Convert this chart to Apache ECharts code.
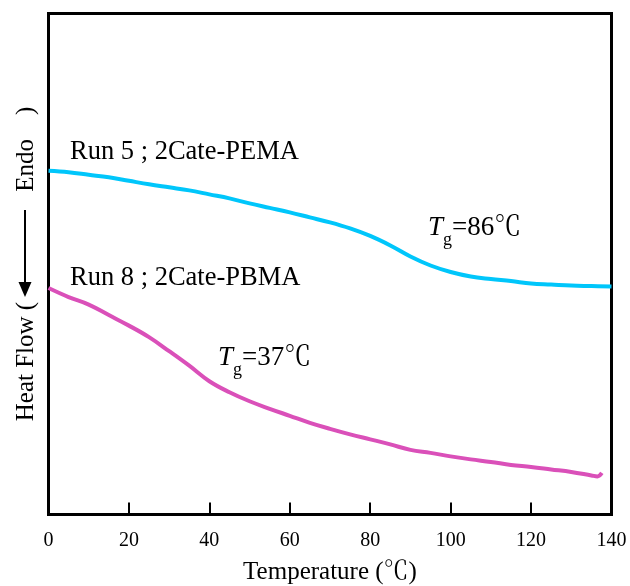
<!DOCTYPE html>
<html>
<head>
<meta charset="utf-8">
<script src="https://cdn.jsdelivr.net/npm/echarts@6/dist/echarts.min.js"></script>
<style>
  html, body { margin: 0; padding: 0; background: #fff; }
  #chart { width: 630px; height: 586px; }
</style>
</head>
<body>
<div id="chart"></div>
<script>
// temperature (°C) and heat flow (arbitrary units)
var tempPEMA = [0, 5, 10, 15, 20, 25, 30, 35, 40, 45, 50, 55, 60, 65, 70, 75, 80, 85, 90, 95, 100, 105, 110, 115, 120, 125, 130, 135, 140]
var flowPEMA = [68.6, 68.3, 67.8, 67.3, 66.6, 65.9, 65.3, 64.7, 63.9, 63.1, 62.1, 61.2, 60.3, 59.3, 58.3, 57.1, 55.6, 53.7, 51.5, 49.7, 48.4, 47.5, 47.0, 46.6, 46.1, 45.9, 45.7, 45.6, 45.5]

var tempPBMA = [0, 5, 10, 15, 20, 25, 30, 35, 40, 45, 50, 55, 60, 65, 70, 75, 80, 85, 90, 95, 100, 105, 110, 115, 120, 125, 130, 135, 136.5, 137.6]
var flowPBMA = [45.2, 43.4, 41.9, 39.8, 37.7, 35.4, 32.6, 29.7, 26.6, 24.4, 22.6, 21.1, 19.7, 18.3, 17.1, 16.0, 15.0, 14.0, 12.9, 12.3, 11.6, 11.0, 10.5, 9.9, 9.5, 9.0, 8.5, 7.8, 7.6, 8.3]

var xTicks = [0, 20, 40, 60, 80, 100, 120, 140]

var serif = '"Liberation Serif", "Times New Roman", "Noto Serif CJK JP", "Noto Sans CJK JP", serif'

function pairs(xs, ys){
    var out = []
    for(let i=0;i<xs.length;i++){
        out.push([xs[i], ys[i]])
    }
    return out
}

function txt(x, y, s, size, italic){
    return {
        type: 'text', x: x, y: y, silent: true,
        style: {
            text: s, fill: '#000', font: (italic ? 'italic ' : '') + size + 'px ' + serif,
            align: 'left', verticalAlign: 'middle'
        }
    }
}

var option = {
    animation: false,
    backgroundColor: '#fff',
    grid: {
        left: 48.5, right: 18.5, top: 13.5, bottom: 71.5,
        containLabel: false, outerBoundsMode: 'none',
        show: true, borderColor: '#000', borderWidth: 3, backgroundColor: 'transparent'
    },
    xAxis: {
        type: 'value', min: 0, max: 140, interval: 20,
        name: 'Temperature (℃)', nameLocation: 'middle', nameGap: 45,
        nameTextStyle: { fontFamily: serif, fontSize: 25, color: '#000' },
        axisLine: { show: false },
        axisTick: { show: true, inside: true, length: 12, lineStyle: { color: '#000', width: 2 } },
        axisLabel: {
            margin: 16, fontFamily: serif, fontSize: 20, color: '#000',
            showMinLabel: true, showMaxLabel: true,
            formatter: function(v){ return xTicks.indexOf(v) >= 0 ? String(v) : '' }
        },
        splitLine: { show: false }
    },
    yAxis: {
        type: 'value', min: 0, max: 100,
        name: '{t|Heat Flow (}{g|}{t|Endo}{h|}{t|)}',
        nameLocation: 'middle', nameRotate: 90, nameGap: 10,
        nameTextStyle: {
            rich: {
                t: { fontFamily: serif, fontSize: 25, color: '#000' },
                g: { width: 110 },
                h: { width: 24 }
            }
        },
        axisLine: { show: false },
        axisTick: { show: false },
        axisLabel: { show: false },
        splitLine: { show: false }
    },
    graphic: [
        { type: 'line', silent: true, shape: { x1: 25, y1: 210, x2: 25, y2: 284 }, style: { stroke: '#000', lineWidth: 2 } },
        { type: 'polygon', silent: true, shape: { points: [[18.5, 282], [31.5, 282], [25, 297]] }, style: { fill: '#000' } },
        txt(70, 152, 'Run 5 ; 2Cate-PEMA', 26.5),
        txt(70, 278, 'Run 8 ; 2Cate-PBMA', 26.5),
        txt(428, 228, 'T', 27, true),
        txt(443, 240, 'g', 18),
        txt(452, 228, '=86℃', 27),
        txt(218, 358, 'T', 27, true),
        txt(233, 370, 'g', 18),
        txt(242, 358, '=37℃', 27)
    ],
    series: [
        {
            name: 'Run 5 ; 2Cate-PEMA',
            type: 'line',
            data: pairs(tempPEMA, flowPEMA),
            smooth: 0.4,
            showSymbol: false,
            lineStyle: { color: '#00c6fb', width: 4 }
        },
        {
            name: 'Run 8 ; 2Cate-PBMA',
            type: 'line',
            data: pairs(tempPBMA, flowPBMA),
            smooth: 0.4,
            showSymbol: false,
            lineStyle: { color: '#da50b9', width: 4 }
        }
    ]
}

var myChart = echarts.init(document.getElementById('chart'))
myChart.setOption(option)
</script>
</body>
</html>
